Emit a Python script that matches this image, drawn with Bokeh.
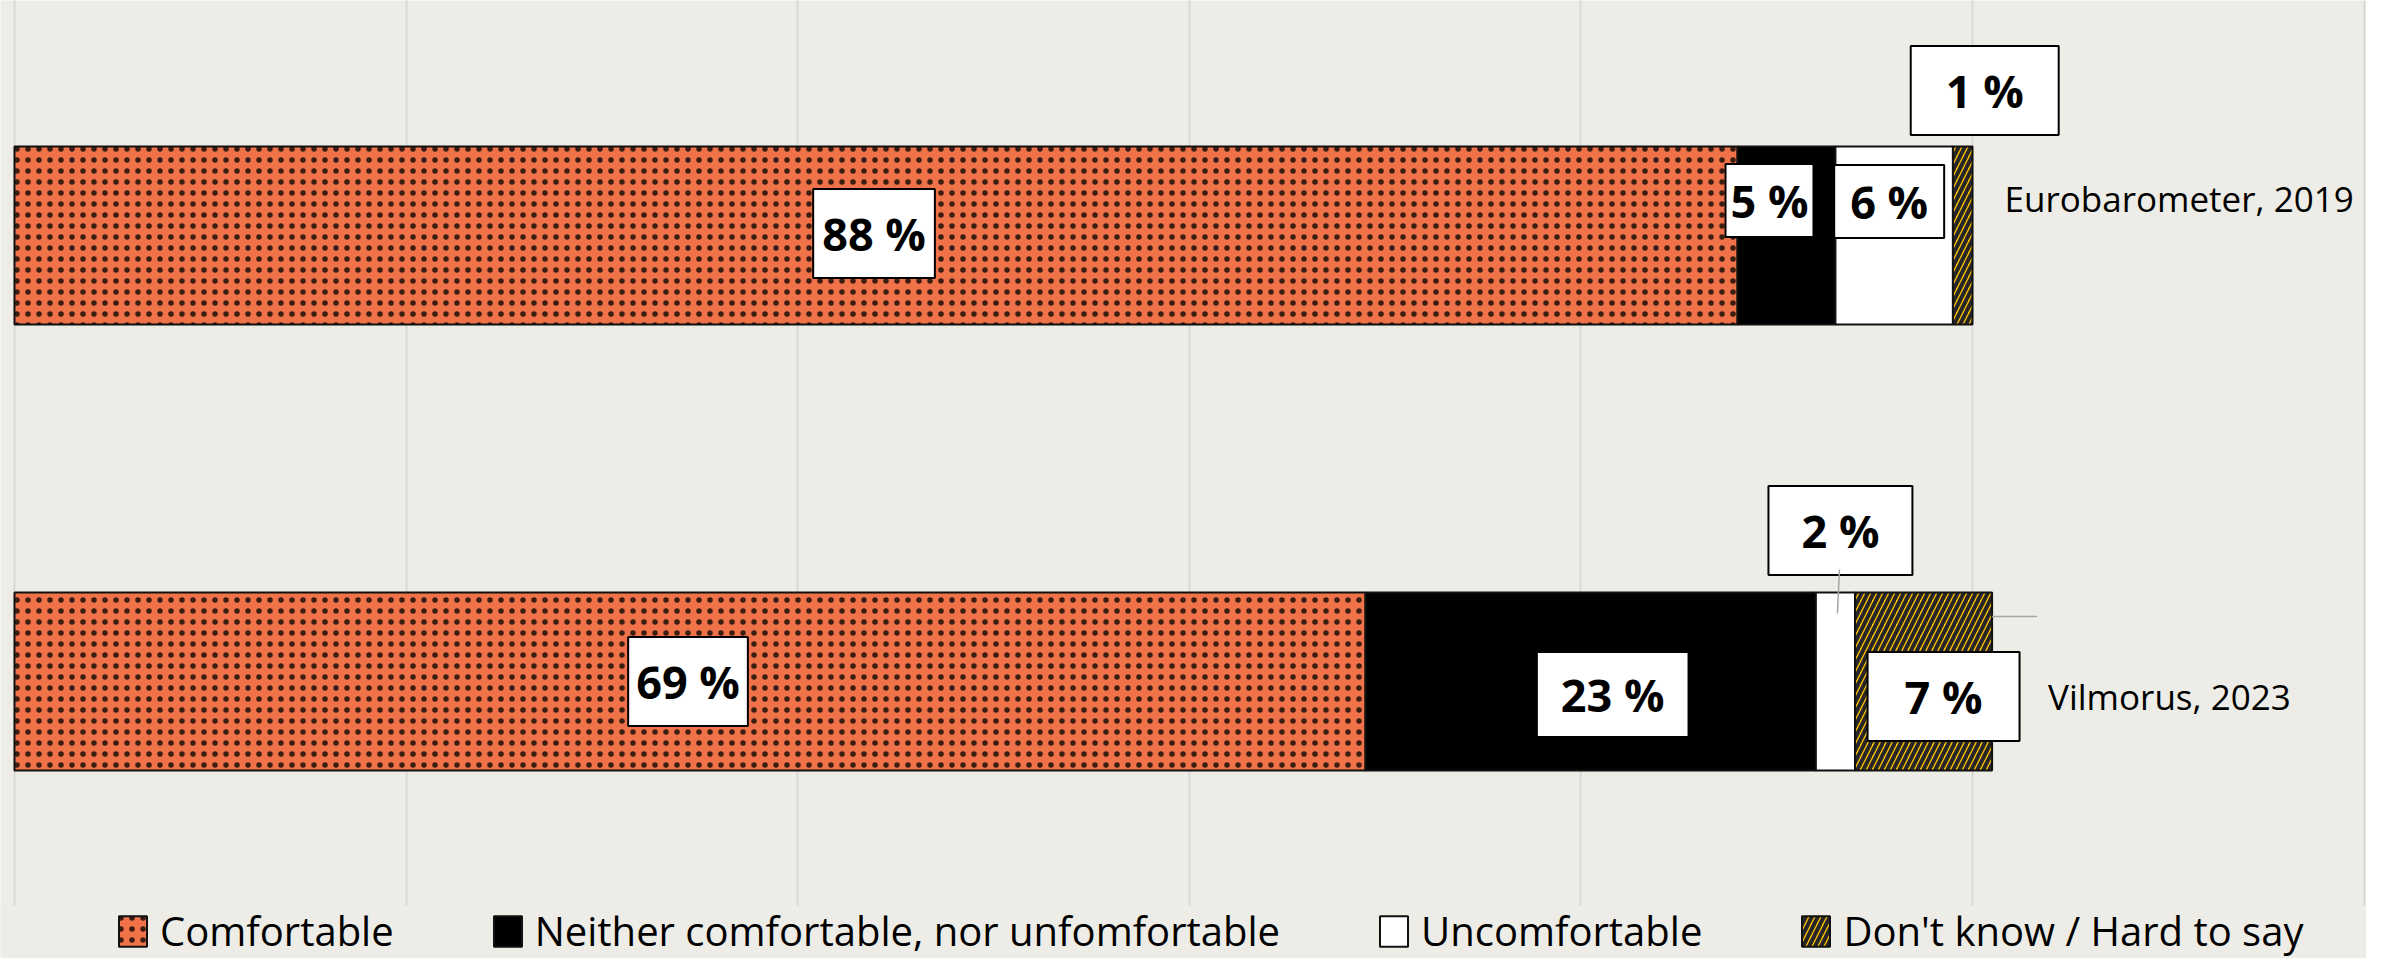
import numpy as np
from bokeh.plotting import figure
from bokeh.models import (ColumnDataSource, Range1d, Legend, LegendItem, FixedTicker,
                          Grid, BoxAnnotation)
from bokeh.embed import file_html
from bokeh.resources import INLINE
from bokeh.core.properties import value

# ---------------- data ----------------
surveys = ["Eurobarometer, 2019", "Vilmorus, 2023"]
answers = ["Comfortable", "Neither comfortable, nor unfomfortable",
           "Uncomfortable", "Don't know / Hard to say"]
comfortable = [88, 69]
neither = [5, 23]
uncomfortable = [6, 2]
dont_know = [1, 7]
x_ticks = [0, 20, 40, 60, 80, 100, 120]

series = [comfortable, neither, uncomfortable, dont_know]

# ---------------- styles ----------------
BG = "#EDECE6"
GRID = "#D8D8D6"
FONT = "Open Sans"
fills = ["#F07249", "#000000", "#FFFFFF", "#FFC000"]
hatches = ["dot", " ", " ", "right_diagonal_line"]
hatch_colors = ["#000000", "#000000", "#000000", "#262626"]
hatch_alphas = [0.75, 1, 1, 1]
hatch_scales = [11, 12, 12, 12]
hatch_weights = [1, 1, 1, 4]

W, H = 2366, 958
PX = 19.58          # screen px per percent
X0 = 14             # screen x of 0 %
BAR_GAP = 446.0     # screen px between bar centres
Y_TOP = 1 + 235 / BAR_GAP
Y_GRID_END = -224 / BAR_GAP
Y_BOTTOM = -(H - 681) / BAR_GAP

y_pos = np.arange(len(surveys))[::-1].astype(float)   # Eurobarometer on top

p = figure(frame_width=W, frame_height=H, output_backend="svg", toolbar_location=None,
           x_range=Range1d(-X0 / PX, (W - X0) / PX),
           y_range=Range1d(Y_BOTTOM, Y_TOP),
           x_axis_location=None, y_axis_location=None,
           min_border_left=0, min_border_right=0, min_border_top=0,
           min_border_bottom=0)
p.background_fill_color = BG
p.border_fill_color = BG
p.outline_line_color = None
p.xgrid.visible = False
p.ygrid.visible = False

grid = Grid(dimension=0, ticker=FixedTicker(ticks=x_ticks),
            grid_line_color=GRID, grid_line_width=2)
p.add_layout(grid, "center")
# strip below the plot area (grid lines stop above the legend)
p.add_layout(BoxAnnotation(top=Y_GRID_END, fill_color=BG, fill_alpha=1.0,
                           line_color=None, level="underlay"))

# ---------------- bars ----------------
vals = np.array(series, dtype=float)          # shape (4, 2)
rights = np.cumsum(vals, axis=0)
lefts = rights - vals
renderers = []
for i, name in enumerate(answers):
    src = ColumnDataSource(dict(y=y_pos, left=lefts[i], right=rights[i]))
    r = p.hbar(y="y", left="left", right="right", height=178 / BAR_GAP, source=src,
               fill_color=fills[i], line_color="#111111", line_width=2,
               hatch_pattern=hatches[i], hatch_color=hatch_colors[i],
               hatch_alpha=hatch_alphas[i],
               hatch_scale=hatch_scales[i], hatch_weight=hatch_weights[i])
    renderers.append(r)

# ---------------- value labels ----------------
# (dx, dy) screen offsets from segment centre, padding (l, r, t, b)
label_layout = {
    (0, 0): (-2, -2, (9, 9, 14, 14)),
    (1, 0): (-17, -35, (5, 5, 6, 6)),
    (2, 0): (-5, -34, (16, 16, 6, 6)),
    (3, 0): (22, -145, (35, 35, 14, 14)),
    (0, 1): (-2, 0, (8, 8, 14, 14)),
    (1, 1): (22, 13, (24, 24, 12, 12)),
    (2, 1): (5, -151, (33, 33, 14, 14)),
    (3, 1): (20, 15, (37, 37, 14, 14)),
}
centres = (lefts + rights) / 2
for (i, j), (dx, dy, pad) in label_layout.items():
    src = ColumnDataSource(dict(x=[centres[i][j]], y=[y_pos[j]],
                                t=[f"{int(vals[i][j])} %"]))
    p.text(x="x", y="y", text="t", source=src, x_offset=dx, y_offset=dy,
           text_font=value(FONT), text_font_style="bold", text_font_size="45px",
           text_color="#000000", text_align="center", text_baseline="middle",
           background_fill_color="#FFFFFF", border_line_color="#000000",
           border_line_width=2,
           padding=dict(left=pad[0], right=pad[1], top=pad[2], bottom=pad[3]))

# leader line for the small "2 %" label
j = 1
p.segment(x0=[centres[2][j] + 4 / PX], y0=[y_pos[j] + 112 / BAR_GAP],
          x1=[centres[2][j] + 2 / PX], y1=[y_pos[j] + 68 / BAR_GAP],
          line_color="#A6A6A6", line_width=1.5)

# ---------------- category labels ----------------
totals = rights[-1]
cat_layout = [(32, -37), (56, 15)]
for j, name in enumerate(surveys):
    src = ColumnDataSource(dict(x=[totals[j]], y=[y_pos[j]], t=[name]))
    p.text(x="x", y="y", text="t", source=src,
           x_offset=cat_layout[j][0], y_offset=cat_layout[j][1],
           text_font=value(FONT), text_font_size="35px", text_color="#000000",
           text_align="left", text_baseline="middle")
# leader line to "Vilmorus, 2023"
p.segment(x0=[totals[1]], y0=[y_pos[1] + 65 / BAR_GAP],
          x1=[totals[1] + 45 / PX], y1=[y_pos[1] + 65 / BAR_GAP],
          line_color="#A6A6A6", line_width=1.5)

# ---------------- legend ----------------
legend = Legend(items=[LegendItem(label=a, renderers=[r]) for a, r in zip(answers, renderers)],
                orientation="horizontal", location=(115, 0),
                label_text_font=FONT, label_text_font_size="40px",
                label_text_color="#000000",
                glyph_width=35, glyph_height=38, label_standoff=10, spacing=96,
                padding=0, margin=0,
                background_fill_alpha=0, border_line_alpha=0)
p.add_layout(legend, "center")

open("out.html", "w").write(file_html(p, INLINE))
